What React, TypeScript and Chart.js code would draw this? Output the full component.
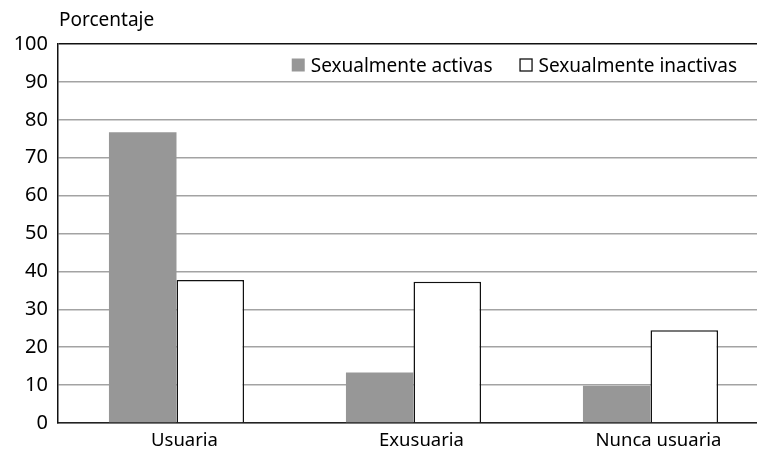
import React, { useEffect, useRef } from "react";
import { Chart, registerables } from "chart.js";

Chart.register(...registerables);

const categories = ["Usuaria", "Exusuaria", "Nunca usuaria"];
const activeLabel = "Sexualmente activas";
const inactiveLabel = "Sexualmente inactivas";
const activeValues = [76.7, 13.3, 9.8];
const inactiveValues = [37.7, 37.3, 24.5];
const yTitle = "Porcentaje";

const FONT = "'Noto Sans', sans-serif";

const overlayPlugin = {
  id: "overlay",
  afterDraw(chart: any) {
    const ctx = chart.ctx as CanvasRenderingContext2D;
    const area = chart.chartArea;
    ctx.save();
    ctx.fillStyle = "#000";
    ctx.font = `19px ${FONT}`;
    ctx.textBaseline = "alphabetic";
    ctx.textAlign = "left";
    ctx.fillText(yTitle, area.left + 1, 26);

    // legend, laid out right to left
    ctx.font = `19px ${FONT}`;
    const items = chart.data.datasets.map((d: any) => ({
      label: d.label,
      fill: d.backgroundColor,
      stroke: d.borderWidth > 0 ? d.borderColor : null,
    }));
    let x = area.right - 32;
    const baseY = area.top + 27.5;
    const box = 13;
    for (let i = items.length - 1; i >= 0; i--) {
      const it = items[i];
      const w = ctx.measureText(it.label).width;
      const tx = x - w;
      ctx.fillStyle = "#000";
      ctx.fillText(it.label, tx, baseY);
      const bx = tx - 6 - box;
      const by = baseY - box;
      ctx.fillStyle = it.fill;
      ctx.fillRect(bx, by, box, box);
      if (it.stroke) {
        ctx.strokeStyle = it.stroke;
        ctx.lineWidth = 1.3;
        ctx.strokeRect(bx + 0.5, by + 0.5, box - 1, box - 1);
      }
      x = bx - 27;
    }
    ctx.restore();
  },
};

export default function App() {
  const ref = useRef<HTMLCanvasElement | null>(null);
  useEffect(() => {
    if (!ref.current) return;
    const chart = new Chart(ref.current, {
      type: "bar",
      data: {
        labels: categories,
        datasets: [
          {
            label: activeLabel,
            data: activeValues,
            backgroundColor: "#979797",
            borderColor: "#979797",
            borderWidth: 0,
            categoryPercentage: 0.57,
            barPercentage: 1,
          },
          {
            label: inactiveLabel,
            data: inactiveValues,
            backgroundColor: "#ffffff",
            borderColor: "#111111",
            borderWidth: 1.5,
            categoryPercentage: 0.57,
            barPercentage: 1,
          },
        ],
      },
      options: {
        animation: false,
        responsive: false,
        devicePixelRatio: 1,
        layout: { padding: { top: 44, left: 0, right: 0, bottom: 0 } },
        plugins: {
          legend: { display: false },
          tooltip: { enabled: false },
          title: { display: false },
        },
        scales: {
          x: {
            grid: { display: false, drawTicks: false },
            border: { display: true, color: "#222", width: 1.5 },
            ticks: {
              color: "#000",
              font: { family: FONT, size: 18.5 },
              padding: 7,
              labelOffset: 8,
            },
            afterFit(scale: any) {
              scale.height = 33;
            },
          },
          y: {
            min: 0,
            max: 100,
            ticks: {
              stepSize: 10,
              color: "#000",
              font: { family: FONT, size: 20 },
              padding: 10,
            },
            grid: {
              drawTicks: false,
              lineWidth: 1.5,
              color: (c: any) =>
                c.tick && c.tick.value === 100 ? "#111" : "#a3a3a3",
            },
            border: { display: true, color: "#111", width: 1.5 },
            afterFit(scale: any) {
              scale.width = 58;
            },
          },
        },
      },
      plugins: [overlayPlugin],
    });
    return () => chart.destroy();
  }, []);
  return (
    <div
      style={{
        position: "absolute",
        left: 0,
        top: 0,
        width: 757,
        height: 456,
        overflow: "hidden",
        background: "#fff",
      }}
    >
      <canvas ref={ref} width={769} height={456} style={{ display: "block" }} />
    </div>
  );
}
